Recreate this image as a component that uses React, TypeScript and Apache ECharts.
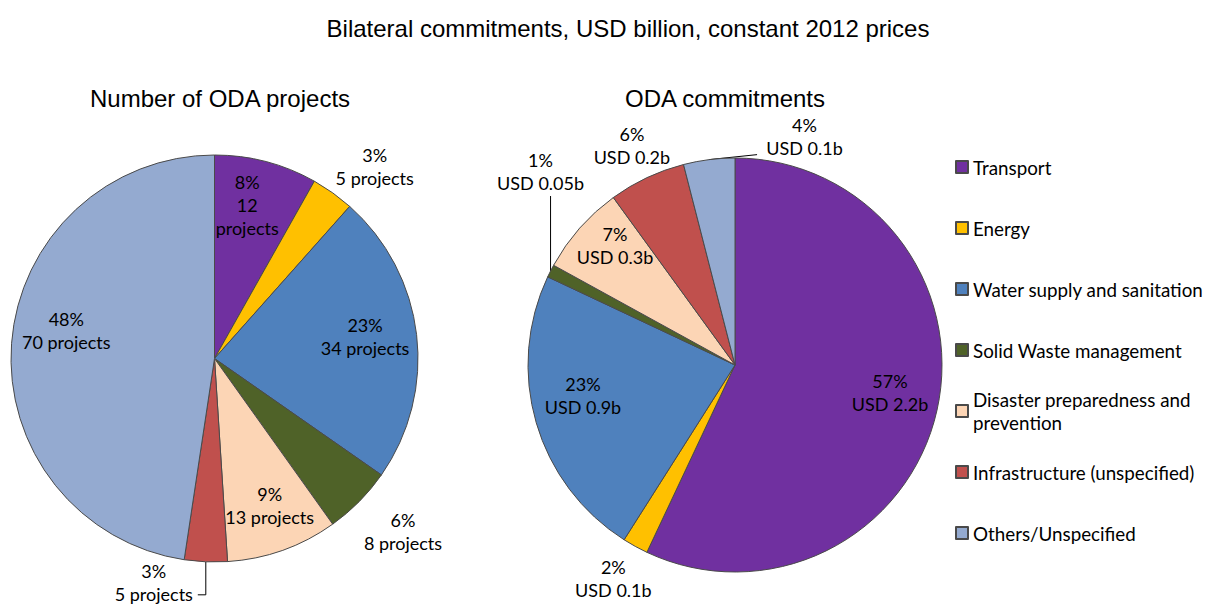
import React, { useEffect, useRef } from "react";
import * as echarts from "echarts";

// ---------- data ----------
const categories = [
  "Transport",
  "Energy",
  "Water supply and sanitation",
  "Solid Waste management",
  "Disaster preparedness and prevention",
  "Infrastructure (unspecified)",
  "Others/Unspecified",
];
const legendLabels = [
  "Transport",
  "Energy",
  "Water supply and sanitation",
  "Solid Waste management",
  "Disaster preparedness and\nprevention",
  "Infrastructure (unspecified)",
  "Others/Unspecified",
];
const projectCounts = [12, 5, 34, 8, 13, 5, 70];
const projectPercentLabels = ["8%", "3%", "23%", "6%", "9%", "3%", "48%"];
const projectCountLabels = ["12\nprojects", "5 projects", "34 projects", "8 projects", "13 projects", "5 projects", "70 projects"];
const commitmentShares = [57, 2, 23, 1, 7, 6, 4];
const commitmentUsdLabels = ["USD 2.2b", "USD 0.1b", "USD 0.9b", "USD 0.05b", "USD 0.3b", "USD 0.2b", "USD 0.1b"];

const mainTitle = "Bilateral commitments, USD billion, constant 2012 prices";
const leftTitle = "Number of ODA projects";
const rightTitle = "ODA commitments";

// ---------- style ----------
const colors = ["#7030A0", "#FFC000", "#4F81BD", "#4F6228", "#FCD5B5", "#C0504D", "#94AAD0"];
const LABEL_FONT = "Lato";
const TITLE_FONT = "Liberation Sans";

type LabelSpec = { k?: number; dx: number; dy: number; leader?: number[][] };

const leftGeom = { cx: 214.5, cy: 358.5, r: 203.5 };
const rightGeom = { cx: 735, cy: 365, r: 207 };

const leftLabelSpecs: LabelSpec[] = [
  { k: 0.75, dx: -6, dy: -6 },
  { k: 1.22, dx: 16, dy: 10 },
  { k: 0.75, dx: -1, dy: -4 },
  { k: 1.22, dx: 12, dy: -1.5 },
  { k: 0.75, dx: 4, dy: 3 },
  { leader: [[0, 33], [-8, 33]], dx: -44, dy: -12 },
  { k: 0.75, dx: 4, dy: -17 },
];
const rightLabelSpecs: LabelSpec[] = [
  { k: 0.75, dx: 3.5, dy: -6 },
  { k: 1.19, dx: -3, dy: -2 },
  { k: 0.75, dx: -3, dy: -13 },
  { leader: [[0, -75]], dx: -10, dy: -24.5 },
  { k: 0.75, dx: -3.5, dy: -17 },
  { k: 1.17, dx: 0, dy: 0 },
  { leader: [[48, -5]], dx: 47.5, dy: -18.5 },
];

const legendFirstCenter = 167;
const legendStep = 61;

function midAngles(values: number[]): number[] {
  const total = values.reduce((a, b) => a + b, 0);
  let acc = 0;
  return values.map((v) => {
    const mid = ((acc + v / 2) / total) * Math.PI * 2;
    acc += v;
    return mid;
  });
}

function makeLabelLayout(values: number[], geom: { cx: number; cy: number; r: number }, specs: LabelSpec[]) {
  const mids = midAngles(values);
  return (params: any) => {
    const i = params.dataIndex;
    const a = mids[i];
    const s = specs[i];
    const sx = Math.sin(a);
    const sy = -Math.cos(a);
    if (s.leader) {
      const ax = geom.cx + geom.r * sx;
      const ay = geom.cy + geom.r * sy;
      const pts = [[ax, ay], ...s.leader.map((p) => [ax + p[0], ay + p[1]])];
      const last = pts[pts.length - 1];
      return {
        x: last[0] + s.dx,
        y: last[1] + s.dy,
        align: "center",
        verticalAlign: "middle",
        labelLinePoints: pts,
      };
    }
    const k = s.k ?? 0.75;
    return {
      x: geom.cx + k * geom.r * sx + s.dx,
      y: geom.cy + k * geom.r * sy + s.dy,
      align: "center",
      verticalAlign: "middle",
    };
  };
}

function pieSeries(
  values: number[],
  geom: { cx: number; cy: number; r: number },
  specs: LabelSpec[],
  formatter: (i: number) => string
) {
  return {
    type: "pie",
    center: [geom.cx, geom.cy],
    radius: geom.r,
    startAngle: 90,
    clockwise: true,
    avoidLabelOverlap: false,
    silent: true,
    data: categories.map((name, i) => ({
      name,
      value: values[i],
      labelLine: { show: !!specs[i].leader },
    })),
    label: {
      show: true,
      position: "outside",
      formatter: (p: any) => formatter(p.dataIndex),
      color: "#000",
      fontFamily: LABEL_FONT,
      fontSize: 18,
      lineHeight: 23,
    },
    labelLine: { show: false, lineStyle: { color: "#000", width: 1 } },
    itemStyle: { borderColor: "#4a4a4a", borderWidth: 1 },
    emphasis: { disabled: true },
    labelLayout: makeLabelLayout(values, geom, specs),
  };
}

export default function App() {
  const ref = useRef<HTMLDivElement>(null);
  useEffect(() => {
    if (!ref.current) return;
    const chart = echarts.init(ref.current, undefined, { renderer: "svg" });
    const option = {
      animation: false,
      backgroundColor: "#ffffff",
      color: colors,
      graphic: [
        {
          type: "text",
          x: 628,
          y: 28,
          style: { text: mainTitle, align: "center", verticalAlign: "middle", font: `24px "${TITLE_FONT}"`, fill: "#000" },
        },
        {
          type: "text",
          x: 220,
          y: 98,
          style: { text: leftTitle, align: "center", verticalAlign: "middle", font: `24px "${TITLE_FONT}"`, fill: "#000" },
        },
        {
          type: "text",
          x: 725,
          y: 98,
          style: { text: rightTitle, align: "center", verticalAlign: "middle", font: `24px "${TITLE_FONT}"`, fill: "#000" },
        },
      ],
      legend: legendLabels.map((lab, i) => {
        const multi = lab.includes("\n");
        const c = legendFirstCenter + i * legendStep;
        return {
          data: [categories[i]],
          orient: "vertical",
          left: 955,
          top: multi ? c - 34.5 : c - 11.5,
          padding: 0,
          itemGap: 0,
          icon: "rect",
          itemWidth: 12,
          itemHeight: 12,
          selectedMode: false,
          formatter: () => lab,
          textStyle: {
            fontFamily: LABEL_FONT,
            fontSize: 18.8,
            lineHeight: 23,
            color: "#000",
            padding: multi ? [23, 0, 0, 0] : 0,
          },
        };
      }),
      series: [
        pieSeries(projectCounts, leftGeom, leftLabelSpecs, (i) => `${projectPercentLabels[i]}\n${projectCountLabels[i]}`),
        pieSeries(commitmentShares, rightGeom, rightLabelSpecs, (i) => `${commitmentShares[i]}%\n${commitmentUsdLabels[i]}`),
      ],
    };
    chart.setOption(option as any);
    return () => chart.dispose();
  }, []);
  return <div ref={ref} style={{ position: "fixed", left: 0, top: 0, width: 1205, height: 607 }} />;
}
